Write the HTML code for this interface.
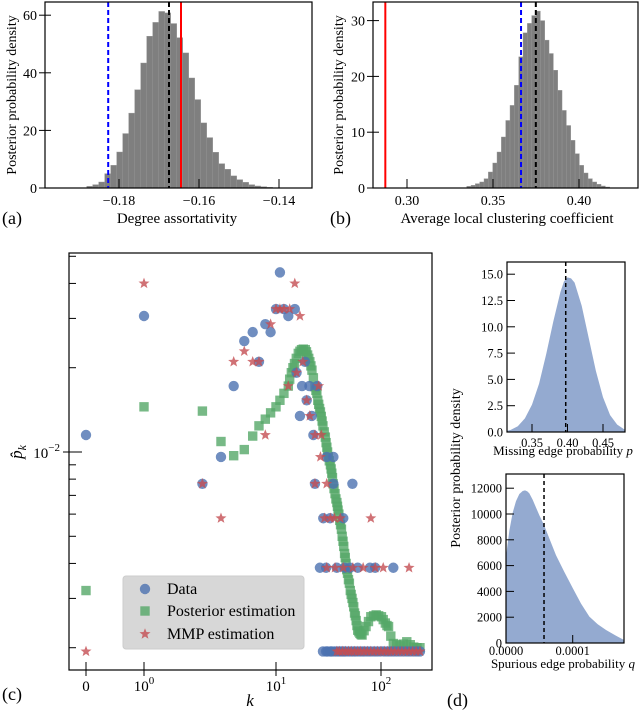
<!DOCTYPE html>
<html><head><meta charset="utf-8"><style>
html,body{margin:0;padding:0;background:#fff;}
svg{display:block;font-family:"Liberation Serif",serif;}
</style></head><body>
<svg id="fig" width="640" height="714" viewBox="0 0 640 714" xmlns="http://www.w3.org/2000/svg">
<defs>
<clipPath id="clipC"><rect x="69" y="253" width="363" height="417"/></clipPath>
<clipPath id="clipA"><rect x="45" y="2" width="267" height="186"/></clipPath>
<clipPath id="clipB"><rect x="373" y="2" width="265" height="186"/></clipPath>
</defs>
<g id="gA"></g>
<g id="gB"></g>
<g id="gC"></g>
<g id="gD1"></g>
<g id="gD2"></g>
<text x="2" y="224" font-size="18">(a)</text>
<text x="177" y="223" font-size="15" text-anchor="middle">Degree assortativity</text>
<text transform="translate(16,95) rotate(-90)" font-size="14" text-anchor="middle">Posterior probability density</text>
<text x="330" y="224" font-size="18">(b)</text>
<text x="507" y="223" font-size="15" text-anchor="middle">Average local clustering coefficient</text>
<text transform="translate(343,95) rotate(-90)" font-size="14" text-anchor="middle">Posterior probability density</text>
<text x="2" y="700" font-size="18">(c)</text>
<text x="250" y="706" font-size="17" font-style="italic" text-anchor="middle">k</text>
<text transform="translate(22,452) rotate(-90)" font-size="17" text-anchor="middle"><tspan font-style="italic">p̂</tspan><tspan font-size="12" font-style="italic" dy="4">k</tspan></text>
<text x="447" y="706" font-size="18">(d)</text>
<text transform="translate(460,468) rotate(-90)" font-size="14" text-anchor="middle">Posterior probability density</text>
<text x="563" y="455" font-size="13" text-anchor="middle">Missing edge probability <tspan font-style="italic">p</tspan></text>
<text x="563" y="668" font-size="13" text-anchor="middle">Spurious edge probability <tspan font-style="italic">q</tspan></text>
</svg>
<script>
// ---------- data ----------
const aStart = -0.18808, aWidth = 0.0015;
const aHeights = [0.58,1.16,2.08,4.98,7.87,12.5,18.9,26.0,34.1,43.4,52.7,57.5,61.3,60.8,57.1,52.2,46.9,38.2,30.7,22.6,17.5,12.4,8.45,6.5,4.2,2.9,1.97,1.16,0.7,0.46,0.23];
const aTicksX = [-0.18,-0.16,-0.14];
const aTickLabelsX = ["\u22120.18","\u22120.16","\u22120.14"];
const aTicksY = [0,20,40,60];
const aLines = [-0.1827,-0.1675,-0.1645];

const bStart = 0.3347, bWidth = 0.00252;
const bHeights = [0.3,0.48,0.78,1.08,1.67,2.87,4.48,6.45,9.14,12.1,14.8,18.4,23.5,27.8,29.5,30.9,31.7,30.0,26.5,24.1,21.1,17.5,13.9,11.2,8.54,6.15,4.06,2.69,1.67,1.08,0.66,0.36,0.18];
const bTicksX = [0.30,0.35,0.40];
const bTickLabelsX = ["0.30","0.35","0.40"];
const bTicksY = [0,10,20,30];
const bLines = [0.2874,0.3663,0.3749];

const dataK = [0,1,2.77,3.83,4.78,5.75,6.66,7.43,8.3,9.1,10,10.9,11.9,13.1,15.1,15.7,18.9,17.7,20.8,19.6,16.9,21.9,22.7,24.7,30.4,35.2,23.5,35.2,53.4,28.2,32.7,43.7,
 26.2,30,37.9,45,50.7,60,78.5,88,131,
 28,30,31,33,34,36,38,40,42,44,46,49,52,55,58,62,66,70,75,80,86,92,99,106,114,122,131,141,152,164,177,190,205,220,235];
const dataP = [0.0115,0.0306,0.0077,0.0096,0.0172,0.0249,0.0268,0.0210,0.0286,0.0268,0.0324,0.0438,0.0324,0.0306,0.0324,0.0192,0.0210,0.0172,0.0172,0.0153,0.01345,0.01345,0.0115,0.0172,0.0096,0.0096,0.0077,0.0077,0.0077,0.0058,0.0058,0.0058,
 0.00386,0.00386,0.00386,0.00386,0.00386,0.00386,0.00386,0.00386,0.00386,
 0.00194,0.00194,0.00194,0.00194,0.00194,0.00194,0.00194,0.00194,0.00194,0.00194,0.00194,0.00194,0.00194,0.00194,0.00194,0.00194,0.00194,0.00194,0.00194,0.00194,0.00194,0.00194,0.00194,0.00194,0.00194,0.00194,0.00194,0.00194,0.00194,0.00194,0.00194,0.00194,0.00194,0.00194,0.00194];

const postK = [0,1,2.77,3.83,4.78,5.75,6.66,7.43,8.3,9.1,10,10.9,11.9,13.1,13.5,14,14.5,15,15.6,16.3,16.9,17.5,18.2,19,19.5,20,20.5,21,21.5,22,22.7,23.5,24,24.5,25,25.5,26,26.5,27,27.5,28,28.8,29.5,30,30.5,31,31.5,32.2,33,33.5,34,34.5,35,35.7,36.5,37.2,38,38.5,39,39.7,40.5,41.2,42,42.7,43.5,44.2,45,45.7,46.5,47.2,48,49,50,51,52,53,54,55,56,57,58,59,60,61.5,63,64.5,66,69,72,76,80,85,90,95,101,105,110,114,118,124,131,141,152,163,176,190,205,220,235];
const postP = [0.0032,0.0145,0.0140,0.0109,0.0097,0.0102,0.0114,0.0124,0.0131,0.0138,0.0145,0.0153,0.0162,0.0172,0.0182,0.0192,0.0200,0.0207,0.0216,0.0225,0.0229,0.0232,0.0233,0.0232,0.0228,0.0222,0.0216,0.0210,0.0203,0.0196,0.0184,0.0171,0.0166,0.0162,0.0153,0.0148,0.0143,0.0139,0.0134,0.0129,0.0124,0.0118,0.0113,0.0108,0.0104,0.0100,0.0096,0.0093,0.0090,0.0087,0.0084,0.0081,0.0077,0.0074,0.0071,0.0068,0.0066,0.0064,0.0062,0.0060,0.0057,0.0055,0.0053,0.0050,0.0048,0.0046,0.00434,0.0042,0.0040,0.0038,0.00369,0.0035,0.0034,0.0032,0.0031,0.0030,0.0029,0.0028,0.00266,0.0026,0.0025,0.0024,0.00231,0.00228,0.00225,0.00223,0.00222,0.0023,0.00238,0.00248,0.00258,0.0026,0.00262,0.0026,0.00258,0.00252,0.00245,0.0024,0.00238,0.0022,0.00207,0.00205,0.00203,0.00206,0.0021,0.00205,0.00201,0.002,0.002];

const mmpK = [0,1,2.77,3.83,4.78,5.75,6.66,7.43,8.3,9.1,10,10.9,11.9,13.1,13.5,15.1,15.7,16.9,18,19.6,21,23.5,25.5,27,26.5,23.5,30.4,29,33,36,41,80,
 30.4,36.5,43.7,54,67.6,88,105,185,
 38,40,43,46,49,52,56,60,64,69,74,80,86,93,100,108,116,125,135,146,158,171,185,200,216,235];
const mmpP = [0.00194,0.040,0.0077,0.0058,0.021,0.0229,0.021,0.021,0.0115,0.0286,0.0324,0.0324,0.0324,0.0172,0.0324,0.040,0.0192,0.0306,0.021,0.0153,0.01345,0.0115,0.0172,0.0115,0.0096,0.0077,0.0077,0.0058,0.0058,0.0058,0.0058,0.0058,
 0.00386,0.00386,0.00386,0.00386,0.00386,0.00386,0.00386,0.00386,
 0.00194,0.00194,0.00194,0.00194,0.00194,0.00194,0.00194,0.00194,0.00194,0.00194,0.00194,0.00194,0.00194,0.00194,0.00194,0.00194,0.00194,0.00194,0.00194,0.00194,0.00194,0.00194,0.00194,0.00194,0.00194,0.00194];

const d1X = [0.315,0.32,0.33,0.34,0.35,0.36,0.37,0.38,0.39,0.395,0.40,0.405,0.41,0.42,0.43,0.44,0.45,0.46,0.47,0.48,0.481];
const d1Y = [0.12,0.20,0.55,1.3,2.6,4.6,7.4,10.5,13.3,14.3,14.7,14.6,14.2,12.0,8.9,5.8,3.3,1.6,0.7,0.25,0.22];
const d1Mean = 0.3975;
const d1TicksX = [0.35,0.40,0.45];
const d1TicksY = [0,2.5,5,7.5,10,12.5,15];

const d2X = [0,0.05,0.1,0.15,0.2,0.25,0.285,0.32,0.35,0.4,0.5,0.57,0.65,0.75,0.875,1.0,1.125,1.25,1.375,1.5,1.65,1.77];
const d2Y = [6700,8700,10100,11000,11550,11780,11830,11750,11600,11100,9900,9150,8100,6800,5500,4260,3050,2040,1450,1010,560,230];
const d2Mean = 0.57;
const d2TicksX = [0,1];
const d2TickLabelsX = ["0.0000","0.0001"];
const d2TicksY = [0,2000,4000,6000,8000,10000,12000];

// ---------- scales ----------
const ax = v => 199 + (v + 0.16) * 4000, ay = v => 188 - v * 2.88;
const bx = v => 407 + (v - 0.30) * 1720, by = v => 188 - v * 5.58;
const cx = k => k === 0 ? 86 : (k <= 10 ? 144 + 132 * Math.log10(k) : 276 + 105 * (Math.log10(k) - 1));
const cy = p => 452 - 280 * Math.log10(p / 0.01);
const d1x = v => 567.5 + (v - 0.40) * 710, d1y = v => 432 - v * 10.52;
const d2x = q => 506 + q * 66.7, d2y = v => 643 - v * 0.0129;

const NS = "http://www.w3.org/2000/svg";
function mk(tag, parent, attrs) {
  const e = document.createElementNS(NS, tag);
  for (const k in attrs) e.setAttribute(k, attrs[k]);
  parent.appendChild(e);
  return e;
}
function txt(parent, x, y, s, size, anchor) {
  const t = mk('text', parent, {x: x, y: y, 'font-size': size, 'text-anchor': anchor || 'middle'});
  t.textContent = s;
  return t;
}

// ---------- panel A ----------
const gA = document.getElementById('gA');
const gAb = mk('g', gA, {'clip-path': 'url(#clipA)'});
aHeights.forEach((h, i) => {
  const x0 = ax(aStart + i * aWidth), x1 = ax(aStart + (i + 1) * aWidth);
  const r = mk('rect', gAb, {x: x0, y: ay(h), width: x1 - x0, height: ay(0) - ay(h), fill: '#7f7f7f', stroke: '#969696', 'stroke-width': 0.4});
  
  
});
[['#0000ff', '5,3', 'blue-dashed-line-a'], ['#000000', '5,3', 'black-dashed-line-a'], ['#ff0000', '', 'red-line-a']].forEach((s, i) => {
  const l = mk('line', gAb, {x1: ax(aLines[i]), x2: ax(aLines[i]), y1: 2, y2: 188, stroke: s[0], 'stroke-width': 2, 'stroke-dasharray': s[1]});
  
  
});
const frA = mk('rect', gA, {x: 45, y: 2, width: 267, height: 186, fill: 'none', stroke: '#000', 'stroke-width': 1.2});


aTicksX.forEach((v, i) => {
  mk('line', gA, {x1: ax(v), x2: ax(v), y1: 188, y2: 179, stroke: '#000', 'stroke-width': 1});
  const t = txt(gA, ax(v), 205, aTickLabelsX[i], 14);
  
  
});
aTicksY.forEach(v => {
  mk('line', gA, {x1: 39, x2: 51, y1: ay(v), y2: ay(v), stroke: '#000', 'stroke-width': 1});
  const t = txt(gA, 37, ay(v) + 5, String(v), 14, 'end');
  
  
});

// ---------- panel B ----------
const gB = document.getElementById('gB');
const gBb = mk('g', gB, {'clip-path': 'url(#clipB)'});
bHeights.forEach((h, i) => {
  const x0 = bx(bStart + i * bWidth), x1 = bx(bStart + (i + 1) * bWidth);
  const r = mk('rect', gBb, {x: x0, y: by(h), width: x1 - x0, height: by(0) - by(h), fill: '#7f7f7f', stroke: '#969696', 'stroke-width': 0.4});
  
  
});
[['#ff0000', '', 'red-line-b'], ['#0000ff', '5,3', 'blue-dashed-line-b'], ['#000000', '5,3', 'black-dashed-line-b']].forEach((s, i) => {
  const l = mk('line', gBb, {x1: bx(bLines[i]), x2: bx(bLines[i]), y1: 2, y2: 188, stroke: s[0], 'stroke-width': 2, 'stroke-dasharray': s[1]});
  
  
});
const frB = mk('rect', gB, {x: 373, y: 2, width: 265, height: 186, fill: 'none', stroke: '#000', 'stroke-width': 1.2});


bTicksX.forEach((v, i) => {
  mk('line', gB, {x1: bx(v), x2: bx(v), y1: 188, y2: 179, stroke: '#000', 'stroke-width': 1});
  const t = txt(gB, bx(v), 205, bTickLabelsX[i], 14);
  
  
});
bTicksY.forEach(v => {
  mk('line', gB, {x1: 367, x2: 379, y1: by(v), y2: by(v), stroke: '#000', 'stroke-width': 1});
  const t = txt(gB, 365, by(v) + 5, String(v), 14, 'end');
  
  
});

// ---------- panel C ----------
const gC = document.getElementById('gC');
const gCm = mk('g', gC, {'clip-path': 'url(#clipC)'});
function starPts(x, y, R) {
  const pts = [];
  for (let i = 0; i < 10; i++) {
    const r = i % 2 ? R * 0.42 : R;
    const a = -Math.PI / 2 + i * Math.PI / 5;
    pts.push((x + r * Math.cos(a)).toFixed(2) + ',' + (y + r * Math.sin(a)).toFixed(2));
  }
  return pts.join(' ');
}
postK.forEach((k, i) => {
  const s = mk('rect', gCm, {x: cx(k) - 4.7, y: cy(postP[i]) - 4.7, width: 9.4, height: 9.4, fill: '#55a868', 'fill-opacity': 0.8});
  
  
});
dataK.forEach((k, i) => {
  const c = mk('circle', gCm, {cx: cx(k), cy: cy(dataP[i]), r: 5.2, fill: '#4c72b0', 'fill-opacity': 0.8});
  
  
});
mmpK.forEach((k, i) => {
  const s = mk('polygon', gCm, {points: starPts(cx(k), cy(mmpP[i]), 5.8), fill: '#c44e52', 'fill-opacity': 0.8});
  
  
});
const frC = mk('rect', gC, {x: 69, y: 253, width: 363, height: 417, fill: 'none', stroke: '#000', 'stroke-width': 1.2});


const cTicksX = [0, 1, 10, 100];
const cTickLabels = [["0", ""], ["10", "0"], ["10", "1"], ["10", "2"]];
cTicksX.forEach((k, i) => {
  mk('line', gC, {x1: cx(k), x2: cx(k), y1: 662, y2: 676, stroke: '#000', 'stroke-width': 1});
  const t = mk('text', gC, {x: cx(k), y: 691, 'font-size': 15, 'text-anchor': 'middle'});
  
  
  t.textContent = cTickLabels[i][0];
  if (cTickLabels[i][1]) {
    const s = mk('tspan', t, {dy: -7, 'font-size': 11});
    s.textContent = cTickLabels[i][1];
  }
});
const cMinor = [0.002,0.003,0.004,0.005,0.006,0.007,0.008,0.009,0.02,0.03,0.04,0.05];
cMinor.forEach(p => {
  mk('line', gC, {x1: 69, x2: 76, y1: cy(p), y2: cy(p), stroke: '#000', 'stroke-width': 1});
});
mk('line', gC, {x1: 63, x2: 82, y1: cy(0.01), y2: cy(0.01), stroke: '#000', 'stroke-width': 1});
const yl = mk('text', gC, {x: 60, y: cy(0.01) + 6, 'font-size': 15, 'text-anchor': 'end'});


yl.textContent = '10';
const yls = mk('tspan', yl, {dy: -7, 'font-size': 11});
yls.textContent = '\u22122';
const lg = mk('g', gC, {});


mk('rect', lg, {x: 123, y: 576, width: 181, height: 73, rx: 3, fill: '#d5d5d5', 'fill-opacity': 0.95, stroke: '#cccccc'});
const lc = mk('circle', lg, {cx: 145, cy: 589, r: 5.2, fill: '#4c72b0', 'fill-opacity': 0.8});


const lsq = mk('rect', lg, {x: 140.3, y: 606.3, width: 9.4, height: 9.4, fill: '#55a868', 'fill-opacity': 0.8});


const lst = mk('polygon', lg, {points: starPts(145, 634, 5.8), fill: '#c44e52', 'fill-opacity': 0.8});


const lt1 = txt(lg, 167, 594, 'Data', 16, 'start');


const lt2 = txt(lg, 167, 616, 'Posterior estimation', 16, 'start');


const lt3 = txt(lg, 167, 639, 'MMP estimation', 16, 'start');



// ---------- panel D top ----------
const gD1 = document.getElementById('gD1');
let path1 = 'M' + d1x(d1X[0]) + ',' + d1y(0);
d1X.forEach((v, i) => { path1 += ' L' + d1x(v).toFixed(2) + ',' + d1y(d1Y[i]).toFixed(2); });
path1 += ' L' + d1x(d1X[d1X.length - 1]) + ',' + d1y(0) + ' Z';
const ar1 = mk('path', gD1, {d: path1, fill: '#4c72b0', 'fill-opacity': 0.6});


const ml1 = mk('line', gD1, {x1: d1x(d1Mean), x2: d1x(d1Mean), y1: 262, y2: 432, stroke: '#000', 'stroke-width': 1.5, 'stroke-dasharray': '4,3'});


const frD1 = mk('rect', gD1, {x: 507, y: 262, width: 118, height: 170, fill: 'none', stroke: '#000', 'stroke-width': 1.2});


d1TicksX.forEach(v => {
  mk('line', gD1, {x1: d1x(v), x2: d1x(v), y1: 432, y2: 424, stroke: '#000', 'stroke-width': 1});
  const t = txt(gD1, d1x(v), 447, v.toFixed(2), 12.5);
  
  
});
d1TicksY.forEach(v => {
  mk('line', gD1, {x1: 507, x2: 515, y1: d1y(v), y2: d1y(v), stroke: '#000', 'stroke-width': 1});
  const t = txt(gD1, 503, d1y(v) + 4.5, v.toFixed(1), 12.5, 'end');
  
  
});

// ---------- panel D bottom ----------
const gD2 = document.getElementById('gD2');
let path2 = 'M' + d2x(d2X[0]) + ',' + d2y(0);
d2X.forEach((v, i) => { path2 += ' L' + d2x(v).toFixed(2) + ',' + d2y(d2Y[i]).toFixed(2); });
path2 += ' L' + d2x(d2X[d2X.length - 1]) + ',' + d2y(0) + ' Z';
const ar2 = mk('path', gD2, {d: path2, fill: '#4c72b0', 'fill-opacity': 0.6});


const ml2 = mk('line', gD2, {x1: d2x(d2Mean), x2: d2x(d2Mean), y1: 474, y2: 643, stroke: '#000', 'stroke-width': 1.5, 'stroke-dasharray': '4,3'});


const frD2 = mk('rect', gD2, {x: 506, y: 474, width: 118, height: 169, fill: 'none', stroke: '#000', 'stroke-width': 1.2});


d2TicksX.forEach((v, i) => {
  mk('line', gD2, {x1: d2x(v), x2: d2x(v), y1: 643, y2: 635, stroke: '#000', 'stroke-width': 1});
  const t = txt(gD2, d2x(v), 655, d2TickLabelsX[i], 12.5);
  
  
});
d2TicksY.forEach(v => {
  mk('line', gD2, {x1: 506, x2: 514, y1: d2y(v), y2: d2y(v), stroke: '#000', 'stroke-width': 1});
  const t = txt(gD2, 502, d2y(v) + 4.5, String(v), 12.5, 'end');
  
  
});
</script>
</body></html>
